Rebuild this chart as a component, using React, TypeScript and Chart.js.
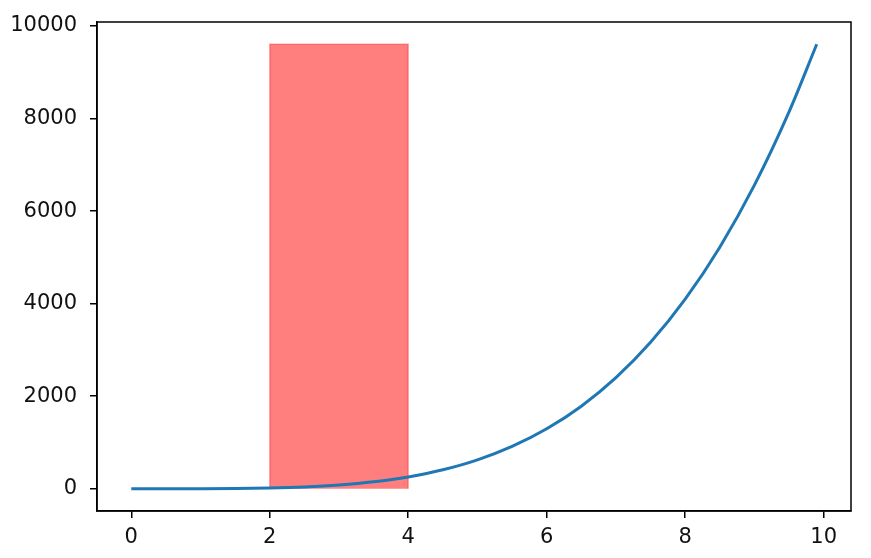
import { useEffect, useRef } from 'react'
import { Chart, registerables, type ChartConfiguration, type Plugin } from 'chart.js'

Chart.register(...registerables)

// curve samples
const curveX = [0, 0.5, 1, 1.5, 2, 2.5, 3, 3.5, 4, 4.5, 5, 5.5, 6, 6.5, 7, 7.5, 8, 8.5, 9, 9.5, 9.9]
const curveY = [0, 0, 1, 5, 16, 39, 81, 150, 256, 410, 625, 915, 1296, 1785, 2401, 3164, 4096, 5220, 6561, 8145, 9606]

// shaded band
const spanX = [2, 4]
const spanTop = 9606

const xTicks = [0, 2, 4, 6, 8, 10]
const yTicks = [0, 2000, 4000, 6000, 8000, 10000]

const FONT = { family: '"DejaVu Sans", sans-serif', size: 21 }

const frame: Plugin<'line'> = {
  id: 'frame',
  afterDraw(chart) {
    const { ctx, chartArea } = chart
    ctx.save()
    ctx.strokeStyle = '#000'
    ctx.lineWidth = 1.5
    ctx.strokeRect(chartArea.left, chartArea.top, chartArea.right - chartArea.left, chartArea.bottom - chartArea.top)
    ctx.restore()
  },
}

export default function App() {
  const canvasRef = useRef<HTMLCanvasElement | null>(null)
  const chartRef = useRef<Chart | null>(null)

  useEffect(() => {
    if (!canvasRef.current) return

    const band = [
      { x: spanX[0], y: 0 },
      { x: spanX[0], y: spanTop },
      { x: spanX[1], y: spanTop },
      { x: spanX[1], y: 0 },
    ]

    const config: ChartConfiguration<'line'> = {
      type: 'line',
      data: {
        datasets: [
          {
            data: curveX.map((x, i) => ({ x, y: curveY[i] })),
            borderColor: '#1f77b4',
            borderWidth: 3,
            pointRadius: 0,
            cubicInterpolationMode: 'monotone',
            fill: false,
          },
          {
            data: band,
            borderColor: 'rgba(255,0,0,0.35)',
            backgroundColor: 'rgba(255,0,0,0.5)',
            borderWidth: 1.5,
            pointRadius: 0,
            tension: 0,
            fill: 'origin',
          },
        ],
      },
      options: {
        responsive: false,
        animation: false,
        devicePixelRatio: 1,
        layout: { padding: { top: 22, right: 20, left: 0, bottom: 0 } },
        plugins: { legend: { display: false }, tooltip: { enabled: false } },
        scales: {
          x: {
            type: 'linear',
            min: -0.495,
            max: 10.395,
            afterBuildTicks: s => { s.ticks = xTicks.map(value => ({ value })) },
            afterFit: s => { s.height = 47; s.paddingLeft = 0; s.paddingRight = 0 },
            grid: { drawOnChartArea: false, drawTicks: true, tickLength: 7, tickColor: '#000', lineWidth: 1.5 },
            border: { display: true, color: '#000', width: 1.5 },
            ticks: { color: '#111', font: FONT, padding: 7, maxRotation: 0, callback: v => String(v) },
          },
          y: {
            type: 'linear',
            min: -480,
            max: 10086,
            afterBuildTicks: s => { s.ticks = yTicks.map(value => ({ value })) },
            afterFit: s => { s.width = 97; s.paddingTop = 0; s.paddingBottom = 0 },
            grid: { drawOnChartArea: false, drawTicks: true, tickLength: 7, tickColor: '#000', lineWidth: 1.5 },
            border: { display: true, color: '#000', width: 1.5 },
            ticks: { color: '#111', font: FONT, padding: 13, callback: v => String(v) },
          },
        },
      },
      plugins: [frame],
    }

    chartRef.current = new Chart(canvasRef.current, config)
    return () => chartRef.current?.destroy()
  }, [])

  return (
    <div style={{ position: 'absolute', left: 0, top: 0, width: 871, height: 558, background: '#fff' }}>
      <canvas ref={canvasRef} width={871} height={558} />
    </div>
  )
}
